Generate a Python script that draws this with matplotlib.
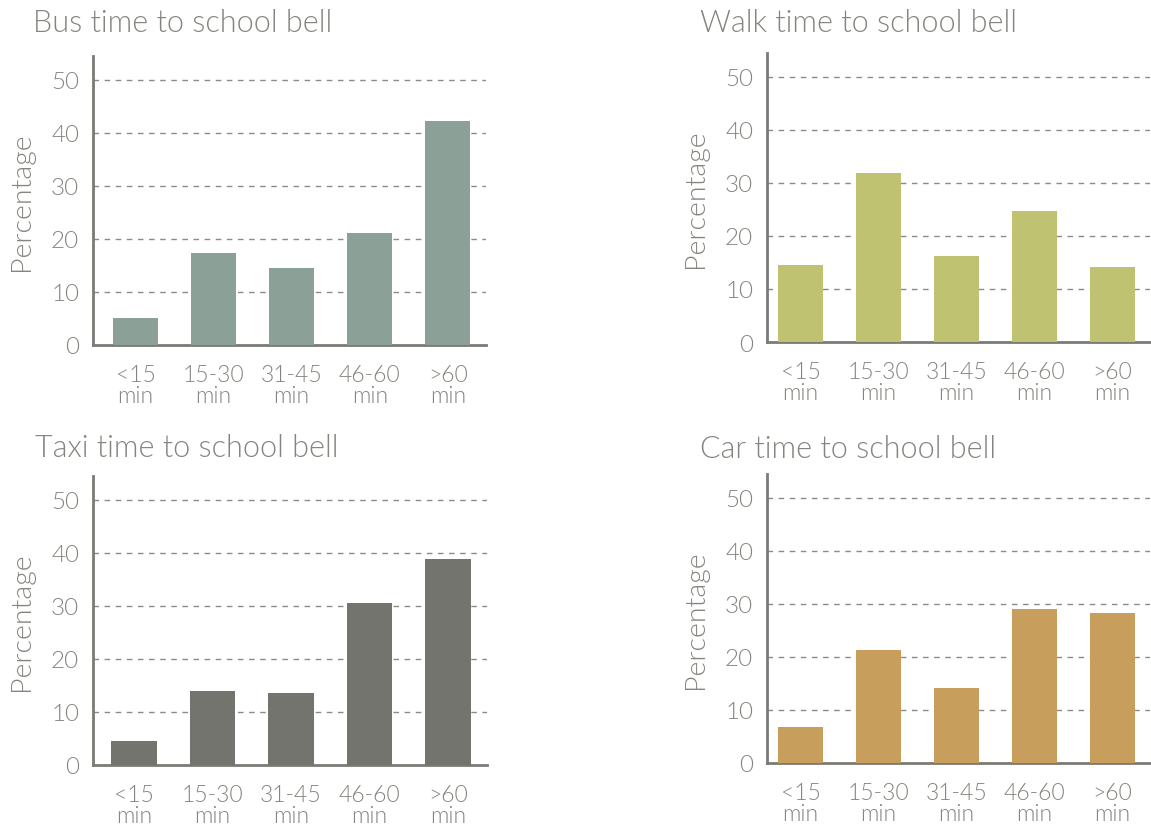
import matplotlib
matplotlib.use("Agg")
import matplotlib.pyplot as plt

categories = ["<15\nmin", "15-30\nmin", "31-45\nmin", "46-60\nmin", ">60\nmin"]
bus = [5.1, 17.4, 14.6, 21.2, 42.2]
walk = [14.5, 31.9, 16.2, 24.7, 14.1]
taxi = [4.5, 13.9, 13.5, 30.5, 38.9]
car = [6.8, 21.4, 14.2, 29.0, 28.2]
titles = ["Bus time to school bell", "Walk time to school bell",
          "Taxi time to school bell", "Car time to school bell"]
colors = ["#8ba197", "#bfc270", "#74746e", "#c89e5c"]
yticks = [0, 10, 20, 30, 40, 50]

plt.rcParams['font.family'] = ['Lato', 'DejaVu Sans']
plt.rcParams['font.weight'] = 300
plt.rcParams['axes.labelweight'] = 300
TXT = "#85857f"
SP = "#7a7a76"

W, H = 1151, 829
fig = plt.figure(figsize=(W / 100, H / 100), dpi=100)

panels = [
    (bus, 93, 486, 57, 346, -0.545, 4.49, (33, 24)),
    (walk, 767, 1150, 54, 343, -0.43, 4.48, (700, 24)),
    (taxi, 93, 487, 477, 766, -0.52, 4.50, (35, 449)),
    (car, 767, 1150, 475, 764, -0.43, 4.48, (700, 450)),
]

for i, (vals, l, r, t, b, xl, xr, tp) in enumerate(panels):
    ax = fig.add_axes([l / W, 1 - b / H, (r - l) / W, (b - t) / H])
    x = list(range(len(categories)))
    ax.bar(x, vals, width=0.58, color=colors[i], zorder=3)
    ax.set_xlim(xl, xr)
    ax.set_ylim(0, 54.5)
    ax.set_yticks(yticks)
    ax.set_yticklabels([str(v) for v in yticks])
    ax.set_xticks(x)
    ax.set_xticklabels(categories, linespacing=0.95)
    ax.tick_params(axis='y', length=0, pad=10, labelsize=17.5, labelcolor=TXT)
    ax.tick_params(axis='x', length=0, pad=14, labelsize=16.5, labelcolor=TXT)
    for spn in ['top', 'right']:
        ax.spines[spn].set_visible(False)
    for spn in ['left', 'bottom']:
        ax.spines[spn].set_color(SP)
        ax.spines[spn].set_linewidth(2)
    ax.yaxis.grid(True, linestyle=(0, (4, 4)), color="#8a8a86", linewidth=1, zorder=0)
    ax.set_axisbelow(True)
    for gl in ax.yaxis.get_gridlines()[:1]:
        gl.set_visible(False)
    ax.set_ylabel("Percentage", fontsize=20.5, color=TXT, fontweight=300)
    ax.yaxis.set_label_coords(-59 / (r - l), 0.5)
    fig.text(tp[0] / W, 1 - tp[1] / H, titles[i], fontsize=22, color=TXT,
             ha='left', va='center')

fig.savefig("out.png", dpi=100, facecolor="white")
